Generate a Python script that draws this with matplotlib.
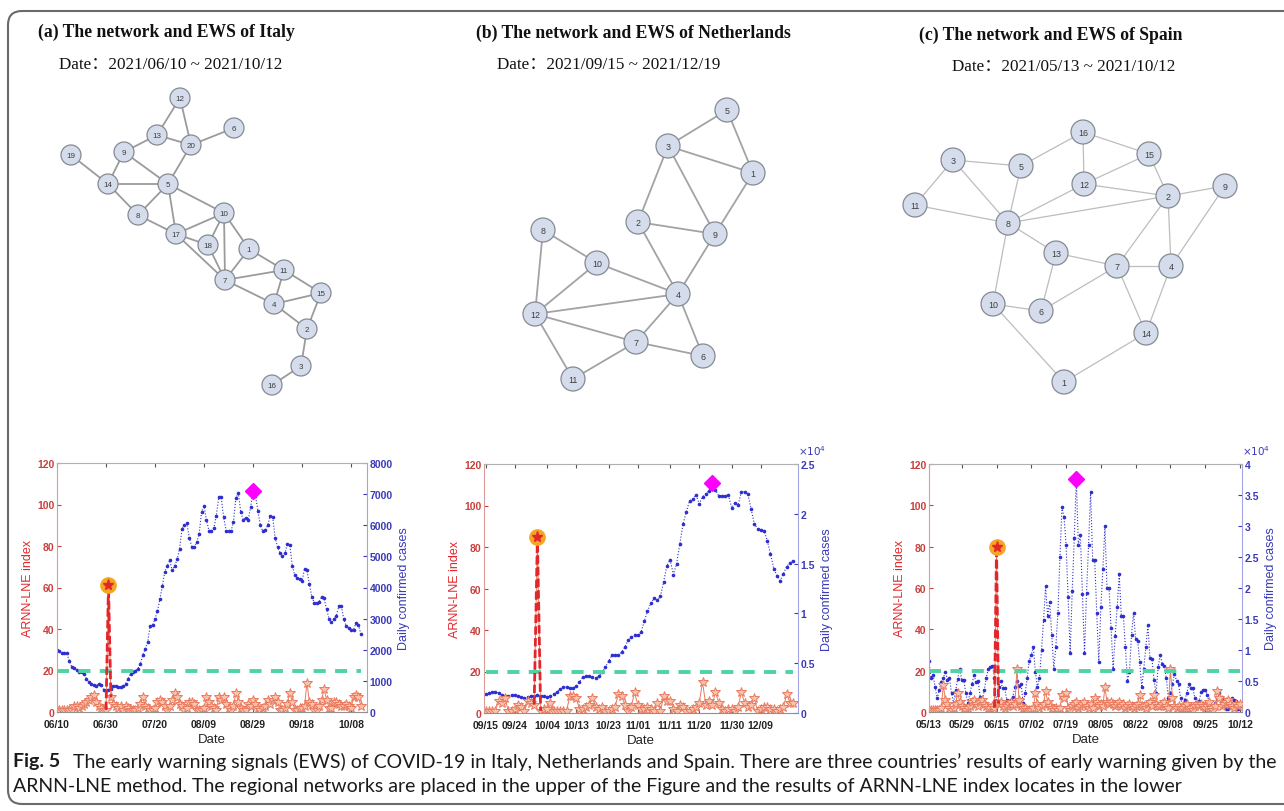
#!/usr/bin/env python3
"""Fig. 5: regional networks and ARNN-LNE early warning signals."""

import matplotlib
matplotlib.use("Agg")
import matplotlib.pyplot as plt
import numpy as np
import pandas as pd
from matplotlib.patches import Circle, FancyBboxPatch
from matplotlib.ticker import FuncFormatter

W, H = 1284, 812

plt.rcParams.update({"font.family": ["Liberation Sans", "DejaVu Sans"]})

RED = "#e3262b"
TICK_RED = "#c8403c"
BLUE = "#2f2fd0"
TICK_BLUE = "#3a3ab8"
GREEN = "#4fd3a3"
ORANGE = "#f5a623"
MAGENTA = "#ff00ff"
STAR_EDGE = "#ea7a5f"
STAR_FILL = "#f7c3ad"
NODE_FILL = "#d5ddec"
NODE_EDGE = "#858a93"
SERIF = ["Liberation Serif", "Noto Sans CJK SC", "DejaVu Serif"]
CAP_FONT = ["Lato", "Liberation Sans"]

# ---------------------------------------------------------------- text
TITLES = ["(a) The network and EWS of Italy",
          "(b) The network and EWS of Netherlands",
          "(c) The network and EWS of Spain"]
DATE_RANGES = ["2021/06/10 ~ 2021/10/12",
               "2021/09/15 ~ 2021/12/19",
               "2021/05/13 ~ 2021/10/12"]
CAPTION_HEAD = "Fig. 5"
CAPTION_1 = ("The early warning signals (EWS) of COVID-19 in Italy, Netherlands and Spain. "
             "There are three countries\u2019 results of early warning given by the")
CAPTION_2 = ("ARNN-LNE method. The regional networks are placed in the upper of the Figure "
             "and the results of ARNN-LNE index locates in the lower")

# ---------------------------------------------------------------- networks (pixel layout)
ITALY_NODES = {1: (249, 250), 2: (307, 330), 3: (301, 367), 4: (274, 305), 5: (168, 185),
               6: (234, 129), 7: (225, 281), 8: (138, 216), 9: (124, 153), 10: (224, 214),
               11: (284, 271), 12: (180, 99), 13: (157, 136), 14: (108, 185), 15: (321, 294),
               16: (272, 386), 17: (176, 235), 18: (208, 246), 19: (71, 156), 20: (191, 146)}
ITALY_EDGES = [(12, 13), (12, 20), (13, 20), (13, 9), (20, 6), (20, 5), (9, 14), (9, 5),
               (19, 14), (14, 5), (14, 8), (5, 8), (5, 17), (5, 10), (8, 17), (17, 10),
               (17, 18), (17, 7), (10, 18), (10, 7), (10, 1), (18, 7), (1, 7), (1, 11),
               (7, 11), (7, 4), (11, 4), (11, 15), (4, 15), (4, 2), (15, 2), (2, 3), (3, 16)]

NL_NODES = {1: (753, 174), 2: (638, 223), 3: (668, 147), 4: (678, 295), 5: (727, 111),
            6: (703, 357), 7: (636, 343), 8: (543, 231), 9: (715, 235), 10: (597, 264),
            11: (573, 380), 12: (535, 315)}
NL_EDGES = [(5, 3), (5, 1), (3, 1), (3, 2), (3, 9), (1, 9), (2, 9), (2, 4), (9, 4),
            (8, 10), (8, 12), (10, 4), (10, 12), (12, 4), (12, 7), (12, 11), (4, 7),
            (4, 6), (7, 6), (7, 11)]

SPAIN_NODES = {1: (1064, 383), 2: (1168, 197), 3: (953, 161), 4: (1171, 267), 5: (1021, 167),
               6: (1041, 312), 7: (1117, 267), 8: (1008, 224), 9: (1225, 187), 10: (993, 305),
               11: (915, 206), 12: (1084, 185), 13: (1056, 254), 14: (1146, 334),
               15: (1149, 155), 16: (1083, 133)}
SPAIN_EDGES = [(16, 5), (16, 15), (16, 12), (15, 12), (15, 2), (3, 5), (3, 11), (3, 8),
               (5, 8), (12, 8), (12, 2), (2, 8), (2, 9), (2, 7), (2, 4), (9, 4), (11, 8),
               (8, 13), (8, 10), (13, 7), (13, 6), (7, 4), (7, 6), (7, 14), (4, 14),
               (10, 6), (10, 1), (14, 1)]

# ---------------------------------------------------------------- EWS series
THRESHOLD = 20

ITALY_START = "2021-06-10"
ITALY_TICKS = ["06/10", "06/30", "07/20", "08/09", "08/29", "09/18", "10/08"]
ITALY_CASES = [2000, 1950, 1880, 1900, 1880, 1650, 1450, 1400, 1350, 1280,
               1280, 1230, 1070, 960, 900, 880, 850, 900, 880, 720,
               720, 720, 740, 830, 850, 800, 800, 830, 900, 1070,
               1230, 1300, 1330, 1390, 1550, 1820, 2030, 2250, 2750, 2780,
               3000, 3230, 3640, 4060, 4500, 4700, 4870, 4550, 4690, 4900,
               5240, 5880, 6000, 6060, 5590, 5310, 5310, 5450, 5720, 6440,
               6610, 6170, 5830, 5800, 5900, 6310, 6900, 6900, 6250, 5830,
               5800, 5800, 6110, 6880, 7030, 6420, 6170, 6240, 6170, 6580,
               7100, 6950, 6450, 6000, 5800, 5850, 6000, 6300, 6280, 5600,
               5300, 5100, 5000, 5100, 5400, 5380, 4700, 4400, 4300, 4280,
               4200, 4600, 4550, 4100, 3700, 3500, 3500, 3550, 3700, 3650,
               3300, 3000, 2900, 3000, 3100, 3400, 3400, 3000, 2750, 2700,
               2650, 2650, 2850, 2800, 2500]
ITALY_INDEX = [1, 1, 1, 1, 1, 1, 1, 3, 3, 2,
               3, 4, 5, 6, 7, 8, 5, 3, 2, 1,
               1, 61, 7, 4, 3, 2, 3, 1, 3, 2,
               1, 1, 1, 2, 4, 7, 3, 2, 1, 1,
               2, 5, 6, 5, 3, 1, 3, 6, 9, 7,
               4, 3, 1, 2, 5, 5, 4, 1, 1, 1,
               2, 7, 5, 3, 2, 1, 7, 6, 7, 4,
               2, 1, 3, 9, 5, 2, 1, 1, 4, 3,
               6, 4, 2, 1, 2, 3, 6, 4, 6, 7,
               5, 1, 1, 2, 4, 9, 5, 1, 1, 2,
               2, 3, 14, 5, 4, 1, 1, 3, 6, 11,
               6, 2, 2, 5, 5, 4, 3, 3, 4, 3,
               2, 7, 8, 7, 3]

NL_START = "2021-09-15"
NL_TICKS = ["09/15", "09/24", "10/04", "10/13", "10/23", "11/01", "11/11", "11/20", "11/30", "12/09"]
NL_CASES = [1900, 2000, 2100, 2100, 2000, 1800, 1700, 1700, 1800, 1800,
            1700, 1600, 1500, 1600, 1700, 1700, 1800, 1700, 1700, 1600,
            1700, 1900, 2100, 2400, 2600, 2600, 2500, 2500, 2700, 3100,
            3600, 3700, 3700, 3600, 3500, 3700, 4100, 4600, 5200, 5800,
            5800, 5800, 6100, 6600, 7300, 7600, 7800, 7800, 8100, 9200,
            10200, 11000, 11500, 11300, 11700, 13200, 14800, 15400, 13900, 15000,
            17000, 19000, 20200, 21300, 21500, 21900, 21000, 21700, 22000, 22300,
            23100, 22400, 21800, 21800, 21800, 21900, 20600, 21100, 20900, 22200,
            22200, 22000, 20500, 19000, 18500, 18400, 18300, 17300, 16000, 14500,
            13800, 13300, 14000, 14700, 15100, 15300]
NL_INDEX = [1, 1, 1, 1, 6, 5, 7, 1, 1, 2,
            4, 3, 1, 6, 5, 4, 85, 1, 2, 2,
            5, 1, 1, 1, 1, 1, 8, 8, 7, 2,
            2, 3, 4, 7, 3, 2, 3, 1, 1, 2,
            3, 9, 8, 4, 1, 3, 10, 4, 2, 2,
            3, 2, 1, 5, 1, 8, 6, 6, 2, 1,
            4, 3, 1, 1, 2, 3, 5, 15, 4, 6,
            4, 10, 5, 2, 1, 2, 2, 1, 3, 10,
            5, 3, 4, 7, 1, 2, 3, 3, 2, 2,
            1, 2, 3, 9, 5, 5]

SPAIN_START = "2021-05-13"
SPAIN_TICKS = ["05/13", "05/29", "06/15", "07/02", "07/19", "08/05", "08/22", "09/08", "09/25", "10/12"]
SPAIN_CASES = [8200, 5500, 6000, 4000, 2200, 3500, 4800, 5500, 6500, 5200,
               5500, 3000, 1500, 3500, 5300, 7000, 5200, 5200, 3000, 1500,
               3000, 4500, 6000, 4800, 5000, 2500, 1500, 3500, 5500, 7000,
               7200, 7500, 5500, 1500, 4000, 5000, 3800, 3800, 2000, 1000,
               2000, 2500, 4000, 5000, 4200, 4500, 1500, 3000, 5500, 8300,
               9200, 10500, 6500, 4000, 5500, 10000, 14800, 20300, 15500, 17800,
               12500, 7000, 10500, 16000, 25000, 33000, 31500, 27000, 18500, 9500,
               19500, 28000, 37600, 27000, 28500, 19000, 9500, 19200, 27000, 35500,
               24500, 24500, 16000, 8000, 17000, 23000, 30000, 20000, 20000, 13500,
               7000, 12200, 17000, 22200, 15500, 15500, 10500, 5000, 6500, 12500,
               16000, 11800, 11500, 8000, 4000, 7000, 10500, 14000, 8700, 8500,
               5200, 3000, 7300, 9200, 7800, 7500, 5500, 2200, 3000, 4500,
               6200, 5000, 4500, 2200, 800, 2000, 3000, 4500, 3800, 3800,
               2200, 1000, 1700, 3200, 3500, 3500, 2800, 1500, 1000, 500,
               1500, 2200, 3000, 2500, 2000, 500, 500, 1500, 2200, 2000,
               1800, 500, 1000]
SPAIN_INDEX = [1, 1, 1, 1, 1, 1, 2, 13, 6, 4,
               2, 1, 2, 4, 9, 5, 3, 2, 1, 2,
               3, 5, 6, 4, 3, 5, 6, 4, 3, 2,
               2, 3, 2, 80, 4, 5, 3, 2, 3, 4,
               5, 3, 4, 21, 6, 3, 2, 2, 1, 1,
               1, 2, 9, 4, 2, 3, 4, 10, 5, 3,
               2, 1, 2, 1, 2, 8, 7, 9, 2, 1,
               3, 4, 5, 2, 3, 4, 5, 3, 2, 4,
               2, 7, 5, 3, 4, 3, 12, 5, 4, 5,
               4, 3, 4, 5, 3, 4, 2, 3, 4, 3,
               2, 3, 4, 8, 3, 3, 2, 4, 5, 3,
               8, 4, 3, 3, 4, 5, 3, 2, 21, 7,
               3, 2, 3, 2, 2, 3, 4, 2, 2, 1,
               3, 4, 3, 4, 3, 2, 3, 5, 2, 1,
               3, 10, 7, 3, 4, 5, 6, 4, 3, 2,
               4, 3, 4]


def px_rect(left, top, right, bottom):
    return [left / W, 1 - bottom / H, (right - left) / W, (bottom - top) / H]


def draw_network(ax, nodes, edges, radius, edge_color, edge_lw, fs):
    for a, b in edges:
        (x0, y0), (x1, y1) = nodes[a], nodes[b]
        ax.plot([x0, x1], [y0, y1], color=edge_color, lw=edge_lw, zorder=1,
                solid_capstyle="butt")
    for label, (x, y) in nodes.items():
        ax.add_patch(Circle((x, y), radius, facecolor=NODE_FILL, edgecolor=NODE_EDGE,
                            lw=0.9, zorder=2))
        ax.text(x, y + 0.5, str(label), ha="center", va="center", fontsize=fs,
                color="#3d3d3d", zorder=3)


def plot_ews(rect, start, ticks, index, cases, xlim, right_max, right_step, sci):
    index = np.asarray(index, dtype=float)
    cases = np.asarray(cases, dtype=float)
    x = np.arange(len(index))
    t0 = pd.Timestamp(start)
    tick_pos = []
    for lab in ticks:
        d = pd.Timestamp(f"2021/{lab}")
        tick_pos.append((d - t0).days)

    ax = fig.add_axes(rect)
    ax2 = ax.twinx()
    ax.set_zorder(ax2.get_zorder() + 1)
    ax.patch.set_visible(False)

    ax2.plot(x, cases, ":", color=BLUE, lw=0.8, marker=".", ms=3.2)
    j = int(np.argmax(cases))
    ax2.plot(x[j], cases[j], "D", color=MAGENTA, ms=8.5)

    ax.plot(x, index, "-", color=STAR_EDGE, lw=0.7, marker="*", ms=7.5,
            mfc=STAR_FILL, mec=STAR_EDGE, mew=0.7)
    ax.plot([x[0], x[-1]], [THRESHOLD, THRESHOLD], "--", color=GREEN, lw=2.8,
            dashes=(3.1, 2.4))
    i = int(np.argmax(index))
    ax.plot(x[i - 1:i + 2], index[i - 1:i + 2], "--", color=RED, lw=2.0, dashes=(3, 1.2))
    ax.plot(x[i], index[i], "o", color=ORANGE, ms=11)
    ax.plot(x[i], index[i], "*", color=RED, ms=8)

    ax.set_xlim(*xlim)
    ax.set_ylim(0, 120)
    ax.set_yticks(np.arange(0, 121, 20))
    ax.set_xticks(tick_pos)
    ax.set_xticklabels(ticks)
    ax2.set_ylim(0, right_max)
    ax2.set_yticks(np.arange(0, right_max + 1, right_step))
    if sci:
        ax2.yaxis.set_major_formatter(FuncFormatter(lambda v, p: f"{v / 1e4:g}"))
        ax2.text(1.0, 1.03, r"$\times10^{4}$", transform=ax2.transAxes, color=TICK_BLUE,
                 fontsize=7.5, ha="left", va="bottom")

    ax.tick_params(axis="y", colors=TICK_RED, labelsize=7.5, direction="in", length=3, pad=2)
    ax.tick_params(axis="x", colors="#555555", labelcolor="#222222", labelsize=7.5,
                   direction="in", length=3, pad=5, top=True)
    ax2.tick_params(axis="y", colors=TICK_BLUE, labelsize=7.5, direction="in", length=3, pad=2)
    for t in ax.get_xticklabels() + ax.get_yticklabels() + ax2.get_yticklabels():
        t.set_fontweight("bold")

    ax.spines["left"].set_color("#dc9a9a")
    ax.spines["top"].set_color("#b0b0b0")
    ax.spines["bottom"].set_color("#909090")
    ax.spines["right"].set_visible(False)
    for s in ("left", "top", "bottom"):
        ax2.spines[s].set_visible(False)
    ax2.spines["right"].set_color("#a4a4e4")

    ax.set_xlabel("Date", fontsize=9.5, color="#222222", labelpad=3)
    ax.set_ylabel("ARNN-LNE index", fontsize=9, color=RED, labelpad=2)
    ax2.set_ylabel("Daily confirmed cases", fontsize=9, color=TICK_BLUE, labelpad=4)
    return ax


fig = plt.figure(figsize=(W / 100, H / 100), dpi=100)

# background canvas in pixel coordinates
bg = fig.add_axes([0, 0, 1, 1])
bg.set_xlim(0, W)
bg.set_ylim(H, 0)
bg.axis("off")
bg.add_patch(FancyBboxPatch((8, 12), 1400, 793, boxstyle="round,pad=0,rounding_size=14",
                            facecolor="none", edgecolor="#6a6a6a", lw=1.5, clip_on=False))

draw_network(bg, ITALY_NODES, ITALY_EDGES, 10, "#9b9b9b", 1.3, 5.8)
draw_network(bg, NL_NODES, NL_EDGES, 12, "#a3a3a3", 1.3, 6.4)
draw_network(bg, SPAIN_NODES, SPAIN_EDGES, 12, "#bdbdbd", 0.9, 6.4)

title_pos = [(166, 32), (633, 33), (1051, 35)]
date_pos = [(171, 65), (609, 65), (1064, 67)]
for (tx, ty), title in zip(title_pos, TITLES):
    bg.text(tx, ty, title, ha="center", va="center", fontsize=12.7, fontweight="bold",
            family=SERIF, color="#111111")
for (dx, dy), rng in zip(date_pos, DATE_RANGES):
    bg.text(dx, dy, "Date\uff1a" + rng, ha="center", va="center", fontsize=12.3,
            family=SERIF, color="#111111")

plot_ews(px_rect(57, 464, 367, 713), ITALY_START, ITALY_TICKS, ITALY_INDEX, ITALY_CASES,
         (0, 126.5), 8000, 1000, False)
plot_ews(px_rect(484, 465, 798, 714), NL_START, NL_TICKS, NL_INDEX, NL_CASES,
         (-0.5, 96.5), 25000, 5000, True)
plot_ews(px_rect(929, 465, 1242, 713), SPAIN_START, SPAIN_TICKS, SPAIN_INDEX, SPAIN_CASES,
         (0, 153), 40000, 5000, True)

# caption, sized to span the frame width
head = bg.text(13, 762, CAPTION_HEAD, fontsize=12, fontweight="bold", family=CAP_FONT,
               va="center", ha="left", color="#1a1a1a")
line1 = bg.text(90, 762, CAPTION_1, fontsize=12, family=CAP_FONT, va="center", ha="left",
                color="#1a1a1a")
line2 = bg.text(13, 787, CAPTION_2, fontsize=12, family=CAP_FONT, va="center", ha="left",
                color="#1a1a1a")
fig.canvas.draw()
r = fig.canvas.get_renderer()
fs = 12.0
for _ in range(4):
    for t in (head, line1, line2):
        t.set_fontsize(fs)
    hw = head.get_window_extent(r).width
    gap = 0.9 * fs
    line1.set_x(13 + hw + gap)
    total = hw + gap + line1.get_window_extent(r).width
    fs *= 1259 / total

fig.savefig("out.png", dpi=100)
